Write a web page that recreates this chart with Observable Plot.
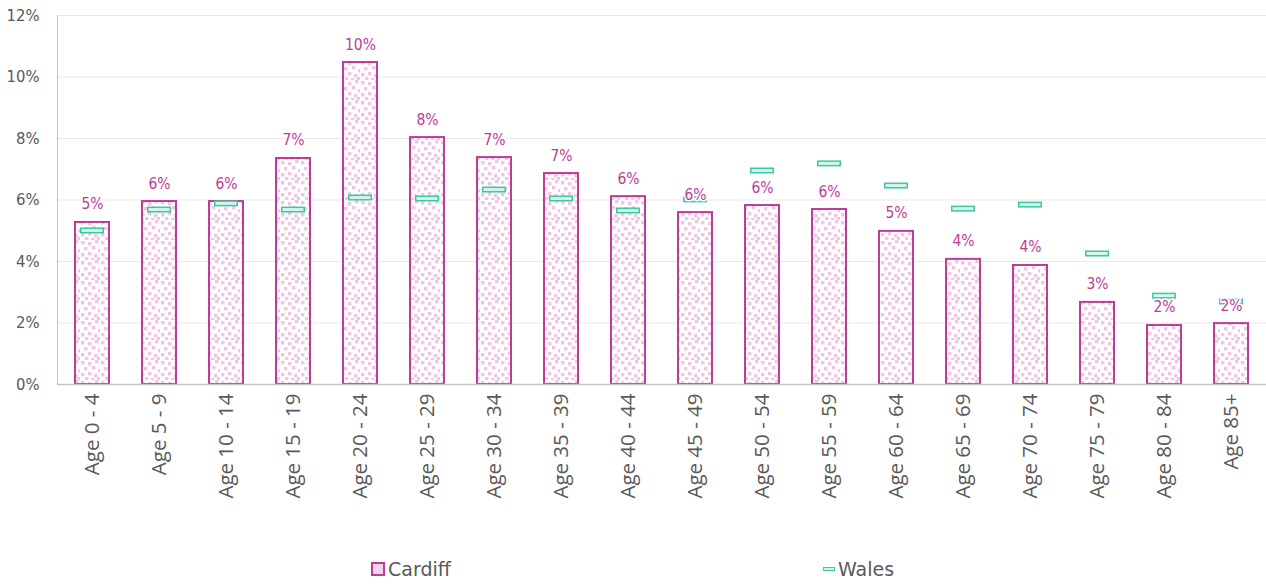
<!DOCTYPE html>
<html>
<head>
<meta charset="utf-8">
<script src="https://cdn.jsdelivr.net/npm/d3@7"></script>
<script src="https://cdn.jsdelivr.net/npm/@observablehq/plot@0.6"></script>
<style>
  html, body { margin: 0; padding: 0; background: #fff; }
  #wrap { position: relative; width: 1266px; height: 584px; overflow: hidden; }
  #legend { position: relative; height: 39px; font-family: "DejaVu Sans", sans-serif; font-size: 19px; color: #595959; }
  .item { position: absolute; top: 13px; display: flex; align-items: center; }
  .sw-c { width: 10px; height: 10px; border: 2px solid #BC3C97; background: #F3D3EA; margin-right: 3px; }
  .sw-w { width: 10px; height: 2px; border: 1.5px solid #3CC7A5; background: #D6F4EC; margin-right: 3px; }
</style>
</head>
<body>
<div id="wrap">
  <div id="chart"></div>
  <div id="legend">
    <div class="item" style="left:371px"><span class="sw-c"></span><span>Cardiff</span></div>
    <div class="item" style="left:823px"><span class="sw-w"></span><span>Wales</span></div>
  </div>
</div>
<script>
const ages = ["Age 0 - 4","Age 5 - 9","Age 10 - 14","Age 15 - 19","Age 20 - 24","Age 25 - 29","Age 30 - 34","Age 35 - 39","Age 40 - 44","Age 45 - 49","Age 50 - 54","Age 55 - 59","Age 60 - 64","Age 65 - 69","Age 70 - 74","Age 75 - 79","Age 80 - 84","Age 85+"];
const cardiff = [5.27, 5.95, 5.95, 7.35, 10.47, 8.03, 7.38, 6.86, 6.11, 5.59, 5.82, 5.69, 4.98, 4.07, 3.87, 2.67, 1.92, 1.98];
const wales = [5.01, 5.69, 5.89, 5.69, 6.08, 6.05, 6.34, 6.05, 5.66, 6.02, 6.96, 7.19, 6.47, 5.72, 5.85, 4.26, 2.89, 2.70];
const yTicks = [0, 2, 4, 6, 8, 10, 12];

const data = ages.map((a, i) => ({age: a, cardiff: cardiff[i], wales: wales[i]}));

const pink = "#BC3C97";
const teal = "#3CC7A5";

const chart = Plot.plot({
  width: 1266,
  height: 545,
  marginLeft: 57,
  marginRight: 0,
  marginTop: 15,
  marginBottom: 161,
  style: {fontFamily: "'DejaVu Sans Condensed', 'DejaVu Sans', sans-serif", background: "#fff"},
  x: {domain: ages, paddingInner: 0.49, paddingOuter: 0.245, label: null},
  y: {domain: [0, 12], label: null},
  marks: [
    Plot.gridY(yTicks, {stroke: "#e8e8e8", strokeOpacity: 1}),
    Plot.frame({anchor: "left", stroke: "#c4c4c4"}),
    Plot.axisY(yTicks, {tickSize: 0, tickPadding: 18, tickFormat: d => d + "%", fontSize: 16.5, color: "#595959", label: null}),
    Plot.axisX({tickSize: 0, tickPadding: 9, tickRotate: -90, fontSize: 20.5, fontFamily: "'Open Sans', 'Liberation Sans', sans-serif", color: "#595959", label: null}),
    Plot.barY(data, {x: "age", y: "cardiff", fill: "url(#dots)", stroke: pink, strokeWidth: 2}),
    Plot.ruleY([0], {stroke: "#c4c4c4", strokeWidth: 1.5}),
    Plot.tickY(data, {x: "age", y: "wales", stroke: teal, strokeWidth: 6, insetLeft: 5, insetRight: 5}),
    Plot.tickY(data, {x: "age", y: "wales", stroke: "#D6F4EC", strokeWidth: 3, insetLeft: 6.5, insetRight: 6.5}),
    Plot.text(data, {x: "age", y: "cardiff", text: d => Math.round(d.cardiff) + "%", dy: -18, fill: pink, stroke: "#fff", strokeWidth: 3, fontSize: 15.5})
  ]
});

// pattern for the Cardiff bars
const svg = d3.select(chart);
const defs = svg.insert("defs", ":first-child");
const pat = defs.append("pattern").attr("id", "dots").attr("patternUnits", "userSpaceOnUse")
  .attr("width", 20).attr("height", 20);
pat.append("rect").attr("width", 20).attr("height", 20).attr("fill", "#fff");
const sq = [[1,1],[8,2],[15,0],[4,7],[12,6],[18,9],[1,13],[8,12],[14,14],[5,17],[11,18],[17,17]];
sq.forEach(([x, y]) => pat.append("rect").attr("x", x).attr("y", y).attr("width", 3.4).attr("height", 3.4).attr("fill", "#F0C6E3"));

document.getElementById("chart").appendChild(chart);
</script>
</body>
</html>
